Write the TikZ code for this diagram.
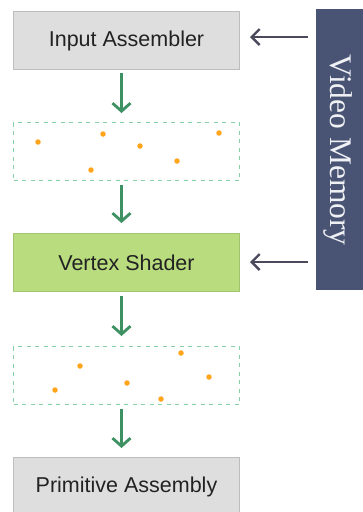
\documentclass[tikz,border=0pt]{standalone}
\usepackage{fontspec}
\setmainfont{Liberation Sans}
\newfontfamily\memfont{Liberation Serif}
\usetikzlibrary{arrows.meta}
\definecolor{boxgray}{HTML}{DEDEDE}
\definecolor{boxgrayline}{HTML}{BDBDBD}
\definecolor{vsgreen}{HTML}{B9DC7E}
\definecolor{vsline}{HTML}{A3C46E}
\definecolor{flowgreen}{HTML}{3E9163}
\definecolor{dashgreen}{HTML}{86D1A6}
\definecolor{dotorange}{HTML}{FFA51C}
\definecolor{memblue}{HTML}{495475}
\definecolor{memarrow}{HTML}{4A4A5C}
\definecolor{txt}{HTML}{222222}
\begin{document}
\begin{tikzpicture}[x=1pt,y=-1pt,
  stagebox/.style={draw=boxgrayline, line width=1pt, fill=boxgray, minimum width=226pt, minimum height=58pt, inner sep=0pt, anchor=north west, text=txt, font=\fontsize{21.5}{24}\selectfont},
  shaderbox/.style={stagebox, fill=vsgreen, draw=vsline},
  databox/.style={draw=dashgreen, line width=1pt, dash pattern=on 4pt off 4.5pt, minimum width=226pt, minimum height=58pt, inner sep=0pt, anchor=north west},
  flow/.style={draw=flowgreen, line width=2.8pt, -{Straight Barb[length=8pt,width=18pt,line width=2.8pt]}},
  memflow/.style={draw=memarrow, line width=2.4pt, -{Straight Barb[length=8pt,width=16pt,line width=2.4pt]}},
  vert/.style={circle, fill=dotorange, inner sep=0pt, minimum size=5.5pt}
]
\useasboundingbox (0,0) rectangle (363,512);
\clip (0,0) rectangle (363,512);
\node[stagebox] (ia) at (13,11) {Input Assembler};
\node[databox] (d1) at (13,122) {};
\node[shaderbox] (vs) at (13,233) {Vertex Shader};
\node[databox] (d2) at (13,346) {};
\node[stagebox] (pa) at (13,457) {Primitive Assembly};
\node[draw=none, fill=memblue, minimum width=50pt, minimum height=281pt, inner sep=0pt, anchor=north west] (mem) at (316,9) {};
\node[rotate=-90, text=white!92!memblue, font=\memfont\fontsize{31.5}{34}\selectfont] (memtxt) at (338.5,150) {Video Memory};
% vertices
\node[vert] (a1) at (38,142) {};
\node[vert] (a2) at (103,134) {};
\node[vert] (a3) at (140,146) {};
\node[vert] (a4) at (91,170) {};
\node[vert] (a5) at (177,161) {};
\node[vert] (a6) at (219,133) {};
\node[vert] (b1) at (55,390) {};
\node[vert] (b2) at (80,366) {};
\node[vert] (b3) at (127,383) {};
\node[vert] (b4) at (161,399) {};
\node[vert] (b5) at (181,353) {};
\node[vert] (b6) at (209,377) {};
% flow arrows
\coordinate (ax) at (121.5,0);
\draw[flow] (ax |- ia.south) ++(0,3) coordinate (s1) -- ([yshift=9pt]ax |- d1.north);
\draw[flow] ([yshift=-4pt]ax |- d1.south) -- ([yshift=10pt]ax |- vs.north);
\draw[flow] ([yshift=-4pt]ax |- vs.south) -- ([yshift=10pt]ax |- d2.north);
\draw[flow] ([yshift=-4pt]ax |- d2.south) -- ([yshift=9pt]ax |- pa.north);
% memory arrows
\coordinate (m1) at (308,37);
\coordinate (m2) at (308,262);
\draw[memflow] (m1) -- ([xshift=10pt]ia.east |- m1);
\draw[memflow] (m2) -- ([xshift=10pt]vs.east |- m2);
\end{tikzpicture}
\end{document}
